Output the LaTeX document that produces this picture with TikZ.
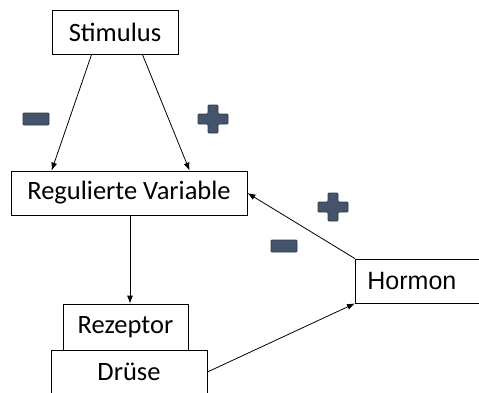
\documentclass[tikz,border=0pt]{standalone}
\usepackage{fontspec}
\setmainfont{Carlito}
\newfontfamily\hormonfont{Liberation Sans}
\usetikzlibrary{arrows.meta}
\definecolor{signfill}{RGB}{68,84,106}
\definecolor{signline}{RGB}{47,59,76}
\tikzset{
  box/.style={draw, line width=0.8pt, inner sep=0pt, font=\fontsize{26.5}{30}\selectfont},
  link/.style={line width=0.8pt, -{Latex[length=8pt,width=6pt]}},
  sign/.style={fill=signfill, draw=signline, line width=0.8pt, rounded corners=1pt}
}
\begin{document}
\begin{tikzpicture}[x=1pt,y=-1pt]
\useasboundingbox (0,0) rectangle (479,392);
% boxes
\node[box, minimum width=126pt, minimum height=44pt] (stim) at (115,32) {Stimulus\hspace{8pt}};
\node[box, minimum width=236pt, minimum height=44pt] (regvar) at (129,193) {Regulierte Variable};
\node[box, minimum width=125pt, minimum height=46pt] (rez) at (125.5,327) {Rezeptor};
\node[box, minimum width=156pt, minimum height=44pt] (druese) at (129,372) {Drüse};
\node[box, anchor=west, minimum height=44pt, text width=108pt, inner xsep=12pt, align=left,
  font=\hormonfont\fontsize{25}{30}\selectfont] (hormon) at (355,281) {Hormon};
% arrows
\draw[link] ([xshift=40pt]stim.south west) -- ([xshift=41pt]regvar.north west);
\draw[link] ([xshift=-36pt]stim.south east) -- ([xshift=179pt]regvar.north west);
\draw[link] ([xshift=1pt]regvar.south) -- ([xshift=1pt]regvar.south |- rez.north);
\draw[link] (druese.east) -- (hormon.south west);
\draw[link] (hormon.north west) -- (regvar.east);
% signs
\draw[sign] (23,113) rectangle (49,125);
\draw[sign] (271,240) rectangle (297,252);
\draw[sign] (208,105) -- (218,105) -- (218,114) -- (228,114) -- (228,124) -- (218,124)
  -- (218,133) -- (208,133) -- (208,124) -- (198,124) -- (198,114) -- (208,114) -- cycle;
\draw[sign] (328,193) -- (338,193) -- (338,202) -- (348,202) -- (348,212) -- (338,212)
  -- (338,221) -- (328,221) -- (328,212) -- (318,212) -- (318,202) -- (328,202) -- cycle;
\end{tikzpicture}
\end{document}
